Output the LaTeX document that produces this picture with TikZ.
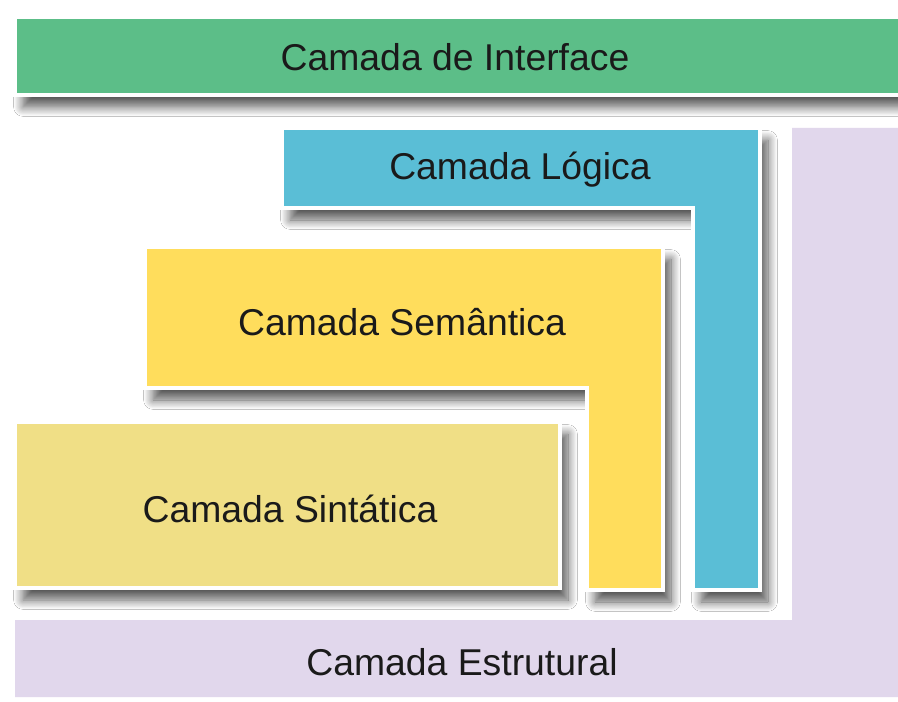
\documentclass[tikz,border=0pt]{standalone}
\usepackage{fontspec}
\setmainfont{Liberation Sans}
\usepackage{tikz}
\usetikzlibrary{shadows.blur}
\definecolor{verde}{RGB}{92,190,136}
\definecolor{azul}{RGB}{90,190,214}
\definecolor{amarelo}{RGB}{255,221,92}
\definecolor{palha}{RGB}{240,223,134}
\definecolor{lilas}{RGB}{225,215,236}
\definecolor{texto}{RGB}{26,26,26}

\begin{document}
\begin{tikzpicture}[x=0.75pt, y=-0.75pt,
	camada/.style={draw=white, line width=2.5pt, blur shadow={shadow xshift=6pt, shadow yshift=-9pt, shadow blur radius=7pt, shadow blur steps=12, shadow opacity=65}},
	rotulo/.style={font=\fontsize{28}{34}\selectfont, text=texto}]
	\useasboundingbox[fill=white] (0,0) rectangle (898,702);
	\fill[lilas] (15,620) -- (15,697) -- (898,697) -- (898,128) -- (792,128) -- (792,620) -- cycle;
	\filldraw[camada, fill=verde] (15,17) rectangle (905,95);
	\filldraw[camada, fill=azul] (282,128) -- (760,128) -- (760,590) -- (693,590) -- (693,208) -- (282,208) -- cycle;
	\filldraw[camada, fill=amarelo] (145,247) -- (663,247) -- (663,590) -- (587,590) -- (587,388) -- (145,388) -- cycle;
	\filldraw[camada, fill=palha] (15,422) rectangle (560,588);
	\node[rotulo] (interface) at (455,57) {Camada de Interface};
	\node[rotulo] (logica) at (520,170) {Camada Lógica};
	\node[rotulo] (semantica) at (402,322) {Camada Semântica};
	\node[rotulo] (sintatica) at (290,509) {Camada Sintática};
	\node[rotulo] (estrutural) at (462,662) {Camada Estrutural};
\end{tikzpicture}
\end{document}
